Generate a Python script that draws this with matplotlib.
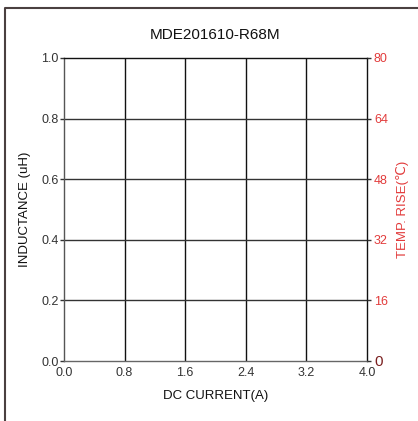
import matplotlib
matplotlib.use("Agg")
import matplotlib.pyplot as plt
from matplotlib.lines import Line2D

title = "MDE201610-R68M"
x_ticks = [0.0, 0.8, 1.6, 2.4, 3.2, 4.0]
y_ticks = [0.0, 0.2, 0.4, 0.6, 0.8, 1.0]
y2_ticks = [0, 16, 32, 48, 64, 80]
x_label = "DC CURRENT(A)"
y_label = "INDUCTANCE (uH)"
y2_label = "TEMP. RISE(℃)"

plt.rcParams['font.family'] = ['Liberation Sans', 'DejaVu Sans']

fig = plt.figure(figsize=(4.18, 4.21), dpi=100)
W, H = 418, 421
ax = fig.add_axes([64 / W, 1 - 361 / H, (367 - 64) / W, (361 - 58) / H])

ax.set_xlim(x_ticks[0], x_ticks[-1])
ax.set_ylim(y_ticks[0], y_ticks[-1])
ax.set_xticks(x_ticks)
ax.set_yticks(y_ticks)
ax.set_xticklabels([f"{v:.1f}" for v in x_ticks], fontsize=9, color="#333333")
ax.set_yticklabels([f"{v:.1f}" for v in y_ticks], fontsize=9, color="#333333")
ax.tick_params(axis='x', length=0, pad=4)
ax.tick_params(axis='y', length=3, width=1, color="#333333", pad=1, direction='out')

for v in x_ticks[1:-1]:
    ax.axvline(v, color="#111111", lw=1.0)
for v in y_ticks[1:-1]:
    ax.axhline(v, color="#333333", lw=1.0)

for s in ax.spines.values():
    s.set_linewidth(1.0)
ax.spines['left'].set_color("#555555")
ax.spines['bottom'].set_color("#666666")
ax.spines['top'].set_color("#111111")
ax.spines['right'].set_color("#111111")

ax.set_title(title, fontsize=11, pad=14, color="#111111")
ax.set_xlabel(x_label, fontsize=9.5, labelpad=8, color="#111111")
ax.set_ylabel(y_label, fontsize=9.5, labelpad=7, color="#111111")

ax2 = ax.twinx()
ax2.set_ylim(y2_ticks[0], y2_ticks[-1])
ax2.set_yticks(y2_ticks)
labels = ax2.set_yticklabels([str(v) for v in y2_ticks], fontsize=9, color="#e23b3b")
labels[0].set_color("#7a1f1f")
labels[0].set_fontsize(11)
ax2.tick_params(axis='y', length=3, width=1, color="#333333", pad=2, direction='out')
ax2.set_ylabel(y2_label, fontsize=9.5, color="#e23b3b", labelpad=6)
for s in ax2.spines.values():
    s.set_visible(False)

# outer frame (left and top edges)
fig.add_artist(Line2D([5 / W, 5 / W, 1.0], [0.0, 1 - 8 / H, 1 - 8 / H],
                      transform=fig.transFigure, color="#4a4040", lw=1.5))

fig.savefig("out.png", dpi=100)
